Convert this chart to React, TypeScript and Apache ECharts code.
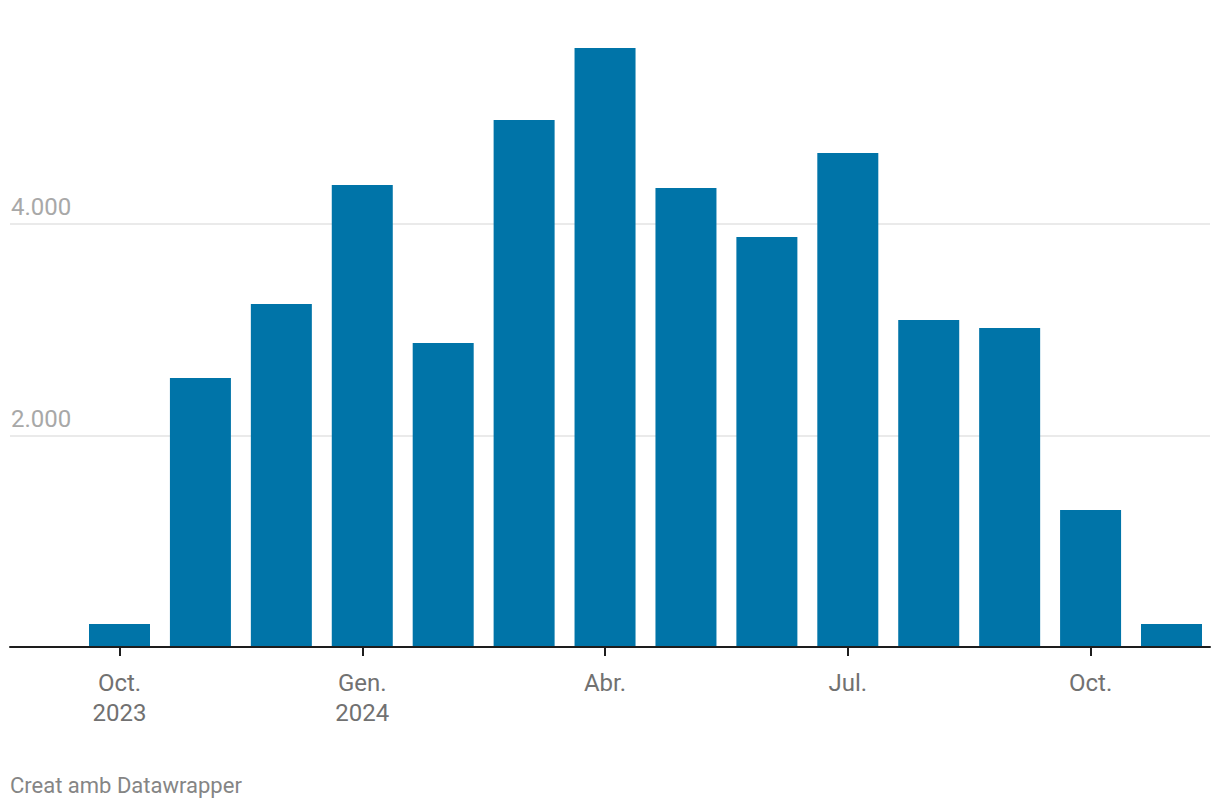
import React, { useEffect, useRef } from "react";
import * as echarts from "echarts";

const months = [
  "2023-10", "2023-11", "2023-12", "2024-01", "2024-02", "2024-03", "2024-04",
  "2024-05", "2024-06", "2024-07", "2024-08", "2024-09", "2024-10", "2024-11",
];
const values = [217, 2544, 3243, 4369, 2875, 4983, 5664, 4340, 3877, 4671, 3092, 3017, 1296, 217];
const tickLabels = ["Oct.\n2023", "", "", "Gen.\n2024", "", "", "Abr.", "", "", "Jul.", "", "", "Oct.", ""];
const yTicks = [0, 2000, 4000, 6000];
const yLabels = ["", "2.000", "4.000", ""];
const footer = "Creat amb Datawrapper";

export default function App() {
  const ref = useRef<HTMLDivElement>(null);
  useEffect(() => {
    document.body.style.margin = "0";
    const chart = echarts.init(ref.current!, null, { renderer: "svg" });
    const font = "Roboto";
    chart.setOption({
      animation: false,
      textStyle: { fontFamily: font },
      title: {
        text: footer,
        left: 10,
        top: 774.5,
        padding: 0,
        textStyle: { fontFamily: font, fontSize: 22, lineHeight: 22, fontWeight: "normal", color: "#858585" },
      },
      grid: [
        { left: 10, right: 10, top: 12.5, bottom: 163 },
        { left: 79.04, right: 8.04, top: 12.5, bottom: 163 },
      ],
      xAxis: [
        {
          gridIndex: 0,
          type: "value",
          min: 0,
          max: 1,
          z: 5,
          axisLine: { show: true, lineStyle: { color: "#1d1d1d", width: 2 } },
          axisTick: { show: false },
          axisLabel: { show: false },
          splitLine: { show: false },
        },
        {
          gridIndex: 1,
          type: "category",
          data: months,
          z: 5,
          axisLine: { show: false },
          axisTick: {
            show: true,
            alignWithLabel: true,
            interval: (i: number) => tickLabels[i] !== "",
            length: 9,
            lineStyle: { color: "#1d1d1d", width: 2 },
          },
          axisLabel: {
            interval: (i: number) => tickLabels[i] !== "",
            formatter: (_v: string, i: number) => tickLabels[i],
            color: "#717171",
            fontSize: 24,
            lineHeight: 30,
            margin: 21,
            fontFamily: font,
          },
        },
      ],
      yAxis: [
        {
          gridIndex: 0,
          type: "value",
          min: 0,
          max: 6000,
          interval: 2000,
          axisLine: { show: false },
          axisTick: { show: false },
          splitLine: {
            show: true,
            lineStyle: { color: ["transparent", "#e3e3e3", "#e3e3e3", "transparent"], width: 1.5 },
          },
          axisLabel: {
            inside: true,
            margin: 0,
            verticalAlign: "bottom",
            lineHeight: 24,
            padding: [0, 0, 5, 1],
            color: "#a8a8a8",
            fontSize: 24,
            fontFamily: font,
            formatter: (v: number) => yLabels[yTicks.indexOf(v)] ?? "",
          },
        },
        {
          gridIndex: 1,
          type: "value",
          min: 0,
          max: 6000,
          show: false,
        },
      ],
      series: [
        {
          type: "bar",
          xAxisIndex: 1,
          yAxisIndex: 1,
          data: values,
          barWidth: 61,
          itemStyle: { color: "#0074a8" },
        },
      ],
    });
    return () => chart.dispose();
  }, []);
  return <div ref={ref} style={{ width: 1220, height: 810 }} />;
}
